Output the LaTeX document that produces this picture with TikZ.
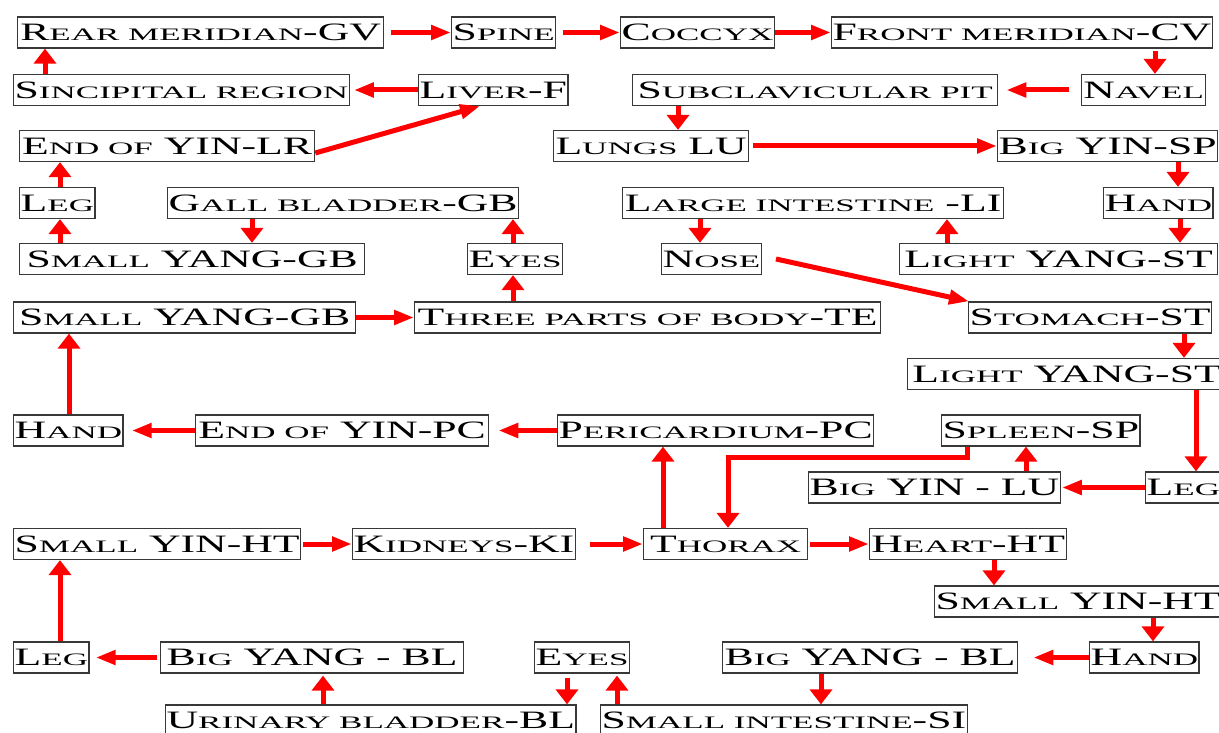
\documentclass[tikz,border=0pt]{standalone}
\usepackage{fontspec}
\setmainfont{Liberation Serif}[FakeStretch=1.75]
\usetikzlibrary{arrows.meta}
\newcommand\smc[1]{\scalebox{1}[0.875]{\fontsize{20}{20}\selectfont\MakeUppercase{#1}}}
\tikzset{
  bx/.style={draw=black!78, line width=1.3pt, minimum height=31pt, inner xsep=1pt,
    inner ysep=0pt, text height=16.6pt, text depth=0pt, anchor=west,
    font=\fontsize{25}{25}\selectfont},
  harr/.style={draw=red, line width=5pt, -{Triangle[length=20pt,width=14pt]}},
  varr/.style={draw=red, line width=5pt, -{Triangle[length=15pt,width=22pt]}},
}
\begin{document}
\begin{tikzpicture}[x=1pt,y=-1pt]
\useasboundingbox (0,0) rectangle (1219,733);
\clip (0,0) rectangle (1219,733);
% row 1
\node[bx, minimum width=366] (rear) at (17,32.5) {R\smc{ear meridian}-GV};
\node[bx, minimum width=102] (spine) at (451,32.5) {S\smc{pine}};
\node[bx, minimum width=152] (coccyx) at (620,32.5) {C\smc{occyx}};
\node[bx, minimum width=380] (front) at (831,32.5) {F\smc{ront meridian}-CV};
% row 2
\node[bx, minimum width=335] (sinc) at (13,90) {S\smc{incipital region}};
\node[bx, minimum width=147] (liver) at (418,90) {L\smc{iver}-F};
\node[bx, minimum width=365] (subclav) at (632,90) {S\smc{ubclavicular pit}};
\node[bx, minimum width=124] (navel) at (1081,90) {N\smc{avel}};
% row 3
\node[bx, minimum width=295] (endlr) at (19,146) {E\smc{nd of} YIN-LR};
\node[bx, minimum width=195] (lungs) at (553,146) {L\smc{ungs} LU};
\node[bx, minimum width=220] (bigyinsp) at (997,146) {B\smc{ig} YIN-SP};
% row 4
\node[bx, minimum width=74] (leg1) at (19,203) {L\smc{eg}};
\node[bx, minimum width=350] (gall) at (167,203) {G\smc{all bladder}-GB};
\node[bx, minimum width=381] (largeint) at (622,203) {L\smc{arge intestine} -LI};
\node[bx, minimum width=107] (hand1) at (1103,203) {H\smc{and}};
% row 5
\node[bx, minimum width=345] (sygb1) at (19,259) {S\smc{mall} YANG-GB};
\node[bx, minimum width=92] (eyes1) at (467,259) {E\smc{yes}};
\node[bx, minimum width=99] (nose) at (661,259) {N\smc{ose}};
\node[bx, minimum width=318] (lightst1) at (899,259) {L\smc{ight} YANG-ST};
% row 6
\node[bx, minimum width=342] (sygb2) at (13,317.5) {S\smc{mall} YANG-GB};
\node[bx, minimum width=466] (three) at (414,317.5) {T\smc{hree parts of body}-TE};
\node[bx, minimum width=240] (stomach) at (968,317.5) {S\smc{tomach}-ST};
% row 7
\node[bx, minimum width=318] (lightst2) at (907,374) {L\smc{ight} YANG-ST};
% row 8
\node[bx, minimum width=109] (hand2) at (13,430.5) {H\smc{and}};
\node[bx, minimum width=293] (endpc) at (195,430.5) {E\smc{nd of} YIN-PC};
\node[bx, minimum width=313] (peri) at (557,430.5) {P\smc{ericardium}-PC};
\node[bx, minimum width=195] (spleen) at (941,430.5) {S\smc{pleen}-SP};
% row 9
\node[bx, minimum width=249] (bigyinlu) at (808,487.5) {B\smc{ig} YIN - LU};
\node[bx, minimum width=74] (leg2) at (1145,487.5) {L\smc{eg}};
% row 10
\node[bx, minimum width=287] (syinht1) at (13,544) {S\smc{mall} YIN-HT};
\node[bx, minimum width=222] (kidneys) at (352,544) {K\smc{idneys}-KI};
\node[bx, minimum width=164] (thorax) at (643,544) {T\smc{horax}};
\node[bx, minimum width=197] (heart) at (869,544) {H\smc{eart}-HT};
% row 11
\node[bx, minimum width=287] (syinht2) at (934,601.5) {S\smc{mall} YIN-HT};
% row 12
\node[bx, minimum width=73] (leg3) at (13,657.5) {L\smc{eg}};
\node[bx, minimum width=303] (bigyangbl1) at (160,657.5) {B\smc{ig} YANG - BL};
\node[bx, minimum width=92] (eyes2) at (534,657.5) {E\smc{yes}};
\node[bx, minimum width=295] (bigyangbl2) at (722,657.5) {B\smc{ig} YANG - BL};
\node[bx, minimum width=108] (hand3) at (1089,657.5) {H\smc{and}};
% row 13
\node[bx, minimum width=408] (urinary) at (165,720.5) {U\smc{rinary bladder}-BL};
\node[bx, minimum width=363] (smallint) at (600,720.5) {S\smc{mall intestine}-SI};

% horizontal arrows
\draw[harr, shorten <=7pt] (rear.east) -- (spine.west);
\draw[harr, shorten <=7pt] (spine.east) -- (coccyx.west);
\draw[harr] (coccyx.east) -- (front.west);
\draw[harr, shorten <=12pt, shorten >=8pt] (navel.west) -- (subclav.east);
\draw[harr, shorten >=4pt] (liver.west) -- (sinc.east);
\draw[harr, shorten <=4pt] (lungs.east) -- (bigyinsp.west);
\draw[harr] (sygb2.east) -- (three.west);
\draw[harr, shorten >=9pt] (peri.west) -- (endpc.east);
\draw[harr, shorten >=8pt] (endpc.west) -- (hand2.east);
\draw[harr, shorten >=1pt] (leg2.west) -- (bigyinlu.east);
\draw[harr, shorten <=2pt] (syinht1.east) -- (kidneys.west);
\draw[harr, shorten <=14pt] (kidneys.east) -- (thorax.west);
\draw[harr, shorten <=2pt] (thorax.east) -- (heart.west);
\draw[harr, shorten >=15pt] (hand3.west) -- (bigyangbl2.east);
\draw[harr, shorten <=3pt, shorten >=6pt] (bigyangbl1.west) -- (leg3.east);
% diagonal arrows
\draw[harr] ([yshift=-7pt]endlr.east) -- ([xshift=62pt]liver.south west);
\draw[harr] ([xshift=14pt]nose.east) -- ([xshift=1pt]stomach.north west);
% vertical arrows
\draw[varr, shorten <=2pt] ([xshift=324pt]front.south west) -- ([xshift=74pt]navel.north west);
\draw[varr] ([xshift=32pt]sinc.north west) -- ([xshift=28pt]rear.south west);
\draw[varr] ([xshift=46pt]subclav.south west) -- ([xshift=125pt]lungs.north west);
\draw[varr] ([xshift=41pt]leg1.north west) -- ([xshift=41pt]endlr.south west);
\draw[varr] ([xshift=181pt]bigyinsp.south west) -- ([xshift=75pt]hand1.north west);
\draw[varr] ([xshift=77pt]hand1.south west) -- ([xshift=281pt]lightst1.north west);
\draw[varr] ([xshift=48pt]lightst1.north west) -- ([xshift=325pt]largeint.south west);
\draw[varr] ([xshift=78pt]largeint.south west) -- ([xshift=39pt]nose.north west);
\draw[varr] ([xshift=85pt]gall.south west) -- ([xshift=233pt]sygb1.north west);
\draw[varr] ([xshift=41pt]sygb1.north west) -- ([xshift=41pt]leg1.south west);
\draw[varr] ([xshift=46pt]eyes1.north west) -- ([xshift=346pt]gall.south west);
\draw[varr] ([xshift=99pt]three.north west) -- ([xshift=46pt]eyes1.south west);
\draw[varr] ([xshift=56pt]hand2.north west) -- ([xshift=56pt]sygb2.south west);
\draw[varr] ([xshift=216pt]stomach.south west) -- ([xshift=277pt]lightst2.north west);
\draw[varr] ([xshift=289pt]lightst2.south west) -- ([xshift=51pt]leg2.north west);
\draw[varr] ([xshift=218pt]bigyinlu.north west) -- ([xshift=85pt]spleen.south west);
\draw[varr] ([xshift=20pt]thorax.north west) -- ([xshift=106pt]peri.south west);
\draw[varr] ([xshift=26pt]spleen.south west) -- ++(0,11) -| ([xshift=85pt]thorax.north west);
\draw[varr] ([xshift=125pt]heart.south west) -- ([xshift=60pt]syinht2.north west);
\draw[varr] ([xshift=219pt]syinht2.south west) -- ([xshift=64pt]hand3.north west);
\draw[varr] ([xshift=99pt]bigyangbl2.south west) -- ([xshift=221pt]smallint.north west);
\draw[varr, shorten >=2pt] ([xshift=17pt]smallint.north west) -- ([xshift=83pt]eyes2.south west);
\draw[varr, shorten <=4pt] ([xshift=33pt]eyes2.south west) -- ([xshift=402pt]urinary.north west);
\draw[varr, shorten >=2pt] ([xshift=158pt]urinary.north west) -- ([xshift=163pt]bigyangbl1.south west);
\draw[varr] ([xshift=47pt]leg3.north west) -- ([xshift=47pt]syinht1.south west);
\end{tikzpicture}
\end{document}
